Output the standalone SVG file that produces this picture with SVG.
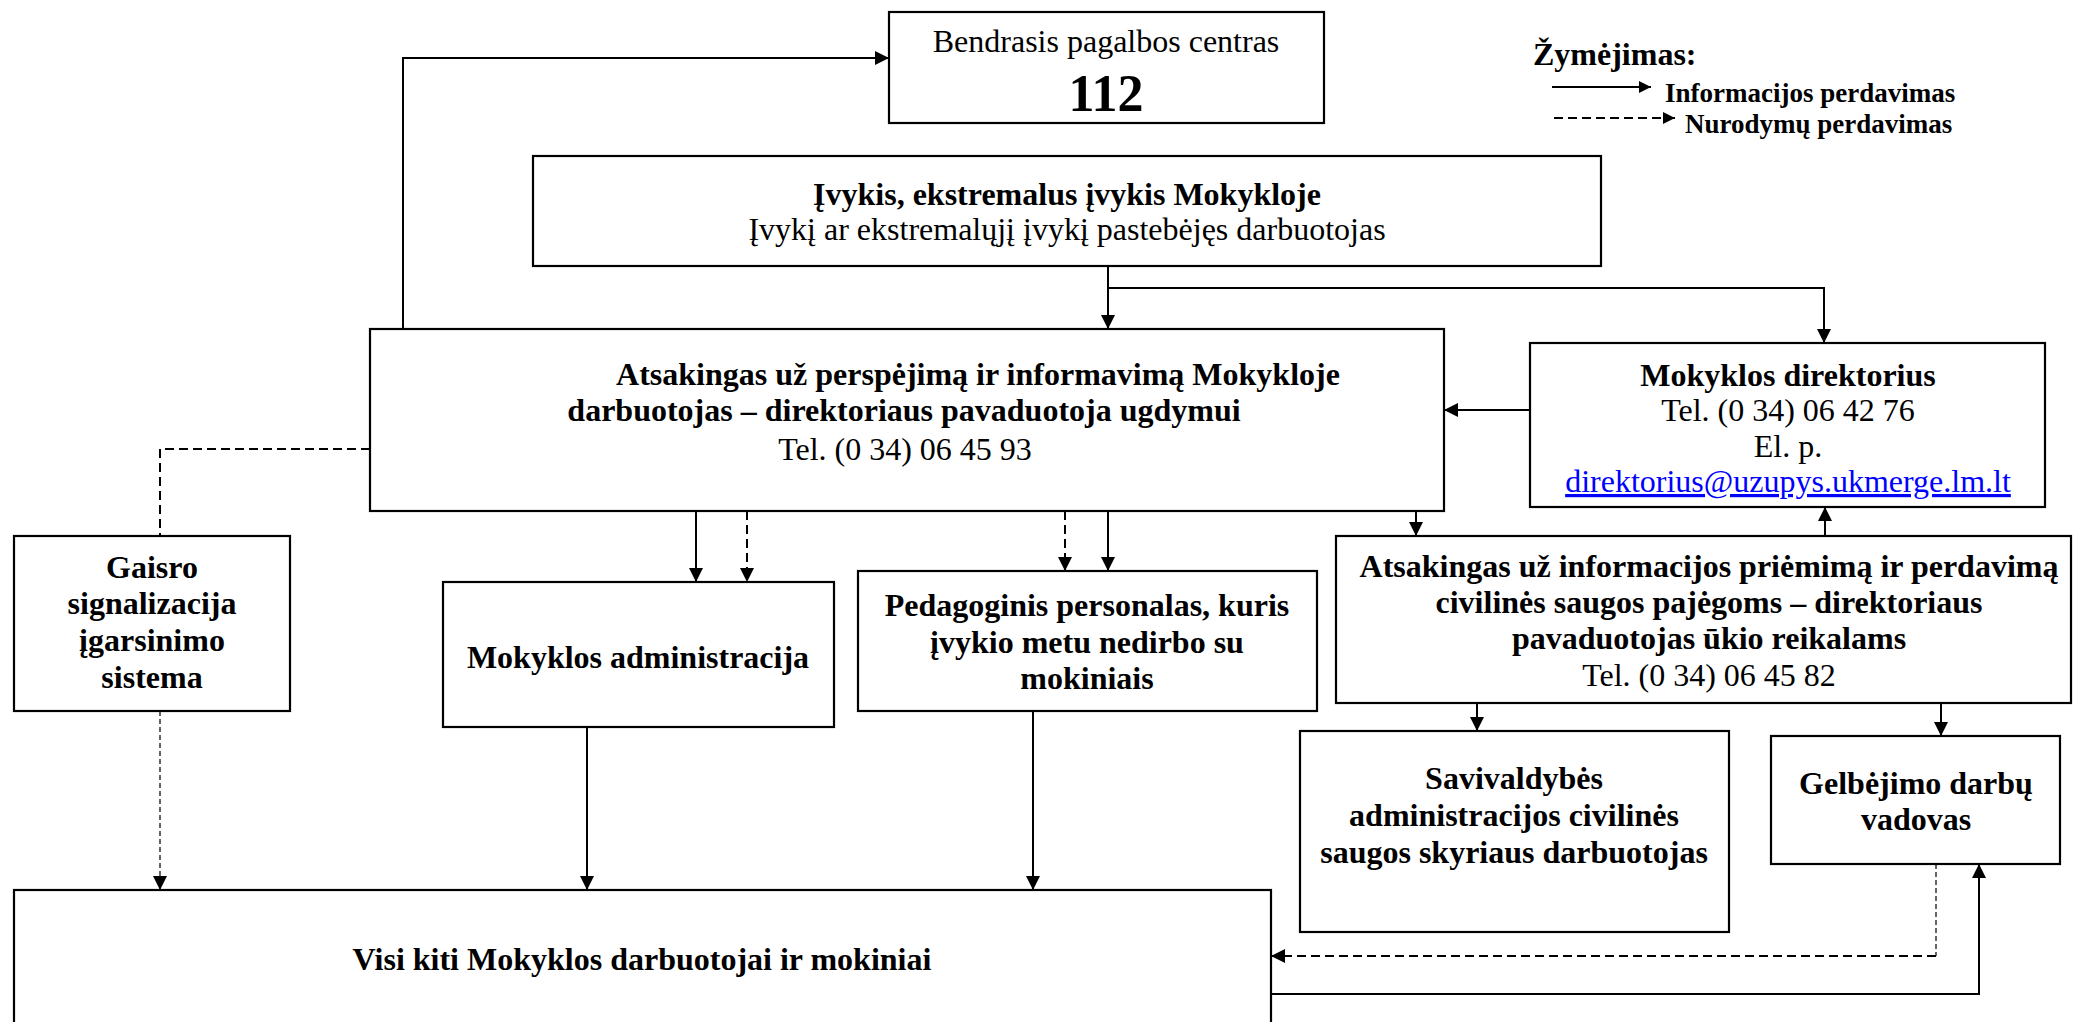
<svg xmlns="http://www.w3.org/2000/svg" width="2073" height="1022" viewBox="0 0 2073 1022">
<style>
.box{fill:#fff;stroke:#000;stroke-width:2.2}
.t{font-family:"Liberation Serif","Times New Roman",serif;font-size:32px;fill:#000;text-anchor:middle}
.b{font-weight:bold}
.c{fill:none;stroke:#000;stroke-width:2}
.d{fill:none;stroke:#000;stroke-width:2;stroke-dasharray:9 5}
.dt{fill:none;stroke:#222;stroke-width:1.4;stroke-dasharray:5 3}
.lg{font-family:"Liberation Serif","Times New Roman",serif;font-size:27px;font-weight:bold;fill:#000}
</style>
<defs>
<marker id="ah" markerUnits="userSpaceOnUse" markerWidth="14" markerHeight="14" refX="14" refY="7" orient="auto">
<path d="M0,0 L14,7 L0,14 Z" fill="#000"/>
</marker>
<marker id="ahs" markerUnits="userSpaceOnUse" markerWidth="12" markerHeight="12" refX="12" refY="6" orient="auto">
<path d="M0,0 L12,6 L0,12 Z" fill="#000"/>
</marker>
</defs>
<rect width="2073" height="1022" fill="#fff"/>

<g id="connectors">
<path class="c" d="M403,329 V58 H889" marker-end="url(#ah)"/>
<path class="c" d="M1108,266 V329" marker-end="url(#ah)"/>
<path class="c" d="M1108,288 H1824 V343" marker-end="url(#ah)"/>
<path class="c" d="M1530,410 H1444" marker-end="url(#ah)"/>
<path class="c" d="M696,511 V582" marker-end="url(#ah)"/>
<path class="d" d="M747,511 V582" marker-end="url(#ah)"/>
<path class="d" d="M1065,511 V571" marker-end="url(#ah)"/>
<path class="c" d="M1108,511 V571" marker-end="url(#ah)"/>
<path class="c" d="M1416,511 V536" marker-end="url(#ah)"/>
<path class="c" d="M1825,536 V507" marker-end="url(#ah)"/>
<path class="d" d="M370,449 H160 V536"/>
<path class="dt" d="M160,711 V890" marker-end="url(#ah)"/>
<path class="c" d="M587,727 V890" marker-end="url(#ah)"/>
<path class="c" d="M1033,711 V890" marker-end="url(#ah)"/>
<path class="c" d="M1477,703 V731" marker-end="url(#ah)"/>
<path class="c" d="M1941,703 V736" marker-end="url(#ah)"/>
<path class="dt" d="M1936,864 V956"/>
<path class="d" d="M1936,956 H1271" marker-end="url(#ah)"/>
<path class="c" d="M1271,994 H1979 V864" marker-end="url(#ah)"/>
</g>

<g id="legend">
<text class="t b" x="1533" y="65" style="text-anchor:start">Žymėjimas:</text>
<path class="c" d="M1552,87 H1651" marker-end="url(#ahs)"/>
<text class="lg" x="1665" y="102">Informacijos perdavimas</text>
<path class="d" d="M1554,118 H1675" marker-end="url(#ahs)"/>
<text class="lg" x="1685" y="133">Nurodymų perdavimas</text>
</g>

<g id="n112">
<rect class="box" x="889" y="12" width="435" height="111"/>
<text class="t" x="1106" y="52">Bendrasis pagalbos centras</text>
<text class="t b" x="1106" y="111" style="font-size:52px">112</text>
</g>

<g id="event">
<rect class="box" x="533" y="156" width="1068" height="110"/>
<text class="t b" x="1067" y="205">Įvykis, ekstremalus įvykis Mokykloje</text>
<text class="t" x="1067" y="240">Įvykį ar ekstremalųjį įvykį pastebėjęs darbuotojas</text>
</g>

<g id="main">
<rect class="box" x="370" y="329" width="1074" height="182"/>
<text class="t b" x="978" y="385">Atsakingas už perspėjimą ir informavimą Mokykloje</text>
<text class="t b" x="904" y="421">darbuotojas – direktoriaus pavaduotoja ugdymui</text>
<text class="t" x="905" y="460">Tel. (0 34) 06 45 93</text>
</g>

<g id="director">
<rect class="box" x="1530" y="343" width="515" height="164"/>
<text class="t b" x="1788" y="386">Mokyklos direktorius</text>
<text class="t" x="1788" y="421">Tel. (0 34) 06 42 76</text>
<text class="t" x="1788" y="457">El. p.</text>
<text class="t" x="1788" y="492" style="fill:#0000ff;text-decoration:underline">direktorius@uzupys.ukmerge.lm.lt</text>
</g>

<g id="gaisro">
<rect class="box" x="14" y="536" width="276" height="175"/>
<text class="t b" x="152" y="578">Gaisro</text>
<text class="t b" x="152" y="614">signalizacija</text>
<text class="t b" x="152" y="651">įgarsinimo</text>
<text class="t b" x="152" y="688">sistema</text>
</g>

<g id="admin">
<rect class="box" x="443" y="582" width="391" height="145"/>
<text class="t b" x="638" y="668">Mokyklos administracija</text>
</g>

<g id="pedagog">
<rect class="box" x="858" y="571" width="459" height="140"/>
<text class="t b" x="1087" y="616">Pedagoginis personalas, kuris</text>
<text class="t b" x="1087" y="653">įvykio metu nedirbo su</text>
<text class="t b" x="1087" y="689">mokiniais</text>
</g>

<g id="info">
<rect class="box" x="1336" y="536" width="735" height="167"/>
<text class="t b" x="1709" y="577">Atsakingas už informacijos priėmimą ir perdavimą</text>
<text class="t b" x="1709" y="613">civilinės saugos pajėgoms – direktoriaus</text>
<text class="t b" x="1709" y="649">pavaduotojas ūkio reikalams</text>
<text class="t" x="1709" y="686">Tel. (0 34) 06 45 82</text>
</g>

<g id="savivaldybe">
<rect class="box" x="1300" y="731" width="429" height="201"/>
<text class="t b" x="1514" y="789">Savivaldybės</text>
<text class="t b" x="1514" y="826">administracijos civilinės</text>
<text class="t b" x="1514" y="863">saugos skyriaus darbuotojas</text>
</g>

<g id="gelbejimo">
<rect class="box" x="1771" y="736" width="289" height="128"/>
<text class="t b" x="1916" y="794">Gelbėjimo darbų</text>
<text class="t b" x="1916" y="830">vadovas</text>
</g>

<g id="visi">
<rect class="box" x="14" y="890" width="1257" height="150"/>
<text class="t b" x="642" y="970">Visi kiti Mokyklos darbuotojai ir mokiniai</text>
</g>
</svg>
